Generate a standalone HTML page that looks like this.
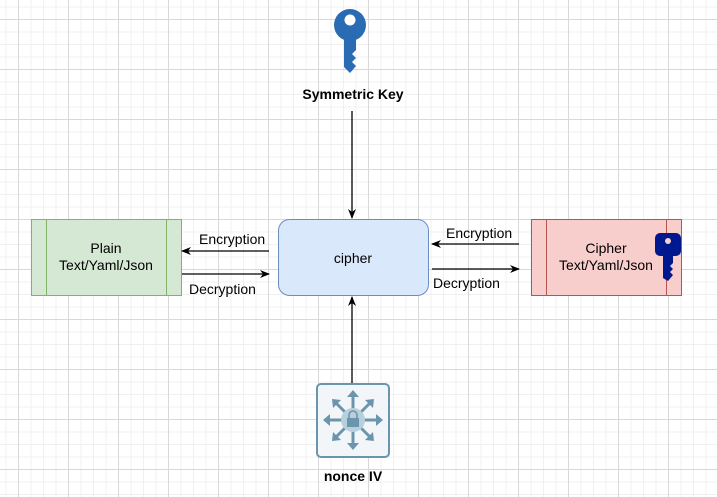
<!DOCTYPE html>
<html><head><style>
body{margin:0;width:717px;height:497px;overflow:hidden;background:#fff;}
.bg{position:absolute;left:0;top:0;width:717px;height:497px;
background-image:
linear-gradient(to right,#d8d8d8 1px,transparent 1px),
linear-gradient(to bottom,#d8d8d8 1px,transparent 1px),
linear-gradient(to right,#f0f0f0 1px,transparent 1px),
linear-gradient(to bottom,#f0f0f0 1px,transparent 1px);
background-size:50px 50px,50px 50px,12.5px 12.5px,12.5px 12.5px;
background-position:18px 19px,18px 19px,5.5px 6.5px,5.5px 6.5px;}
svg{position:absolute;left:0;top:0}
text{font-family:"Liberation Sans",Arial,sans-serif;font-size:14px;}
</style></head><body>
<div class="bg"></div>
<svg width="717" height="497" viewBox="0 0 717 497">
<defs><marker id="a" markerWidth="10" markerHeight="8" refX="9" refY="4" orient="auto" markerUnits="userSpaceOnUse"><path d="M0,0 L10,4 L0,8 L3,4z" fill="#000"/></marker></defs>
<!-- top key -->
<g fill="#2a6cb3">
<circle cx="350" cy="25" r="16"/>
<path d="M344,36 h12 v14 l-4,4 l4,4 l-4,4 l4,4 l-6,7 l-6,-6z"/>
</g>
<circle cx="350" cy="20" r="5.5" fill="#fff"/>
<text x="353" y="99" text-anchor="middle" font-weight="bold">Symmetric Key</text>
<line x1="352" y1="111" x2="352" y2="218" stroke="#000" stroke-width="1.3" marker-end="url(#a)"/>
<!-- cipher -->
<rect x="278.5" y="219.5" width="150" height="76" rx="11" fill="#dae8fc" stroke="#6c8ebf"/>
<text x="353" y="263" text-anchor="middle">cipher</text>
<!-- plain -->
<rect x="31.5" y="219.5" width="150" height="76" fill="#d5e8d4" stroke="#82b366"/>
<line x1="46.5" y1="220" x2="46.5" y2="295" stroke="#82b366"/>
<line x1="166.5" y1="220" x2="166.5" y2="295" stroke="#82b366"/>
<text x="106" y="253" text-anchor="middle">Plain</text>
<text x="106" y="270" text-anchor="middle">Text/Yaml/Json</text>
<!-- cipher text -->
<rect x="531.5" y="219.5" width="150" height="76" fill="#f8cecc" stroke="#b85450"/>
<line x1="546.5" y1="220" x2="546.5" y2="295" stroke="#b85450"/>
<line x1="666.5" y1="220" x2="666.5" y2="295" stroke="#b85450"/>
<text x="606" y="253" text-anchor="middle">Cipher</text>
<text x="606" y="270" text-anchor="middle">Text/Yaml/Json</text>
<g fill="#00188f">
<rect x="655" y="233" width="26" height="23" rx="5"/>
<path d="M663,255 h10 v8 l-3,3 l3,3 l-3,3 l3,3 l-5,6 l-5,-3z"/>
</g>
<circle cx="668" cy="241" r="3" fill="#f8cecc"/>
<!-- arrows left -->
<line x1="269" y1="251" x2="182" y2="251" stroke="#000" stroke-width="1.3" marker-end="url(#a)"/>
<text x="199" y="244">Encryption</text>
<line x1="182" y1="274" x2="269" y2="274" stroke="#000" stroke-width="1.3" marker-end="url(#a)"/>
<text x="189" y="294">Decryption</text>
<!-- arrows right -->
<line x1="519" y1="244" x2="432" y2="244" stroke="#000" stroke-width="1.3" marker-end="url(#a)"/>
<text x="446" y="238">Encryption</text>
<line x1="432" y1="269" x2="519" y2="269" stroke="#000" stroke-width="1.3" marker-end="url(#a)"/>
<text x="433" y="288">Decryption</text>
<!-- bottom -->
<line x1="352" y1="383" x2="352" y2="297" stroke="#000" stroke-width="1.3" marker-end="url(#a)"/>
<rect x="317" y="384" width="72" height="73" rx="4" fill="#f2f6f9" stroke="#6b95ad" stroke-width="2"/>
<g stroke="#6b95ad" stroke-width="3" fill="#6b95ad">
<line x1="353" y1="420" x2="353" y2="396"/><line x1="353" y1="420" x2="353" y2="444"/>
<line x1="353" y1="420" x2="329" y2="420"/><line x1="353" y1="420" x2="377" y2="420"/>
<line x1="353" y1="420" x2="336" y2="403"/><line x1="353" y1="420" x2="370" y2="403"/>
<line x1="353" y1="420" x2="336" y2="437"/><line x1="353" y1="420" x2="370" y2="437"/>
</g>
<g fill="#6b95ad">
<path d="M353,390 l-6,7 h12z"/><path d="M353,450 l-6,-7 h12z"/>
<path d="M323,420 l7,-6 v12z"/><path d="M383,420 l-7,-6 v12z"/>
<path d="M332,399 l9,1 l-8,8z"/><path d="M374,399 l-9,1 l8,8z"/>
<path d="M332,441 l9,-1 l-8,-8z"/><path d="M374,441 l-9,-1 l8,-8z"/>
</g>
<circle cx="353" cy="420" r="12" fill="#b9cfdb"/>
<rect x="347" y="418" width="12" height="9" fill="#6b95ad"/>
<path d="M349,418 v-3 a4,4 0 0 1 8,0 v3" fill="none" stroke="#6b95ad" stroke-width="1.6"/>
<text x="353" y="481" text-anchor="middle" font-weight="bold">nonce IV</text>
</svg>
</body></html>
